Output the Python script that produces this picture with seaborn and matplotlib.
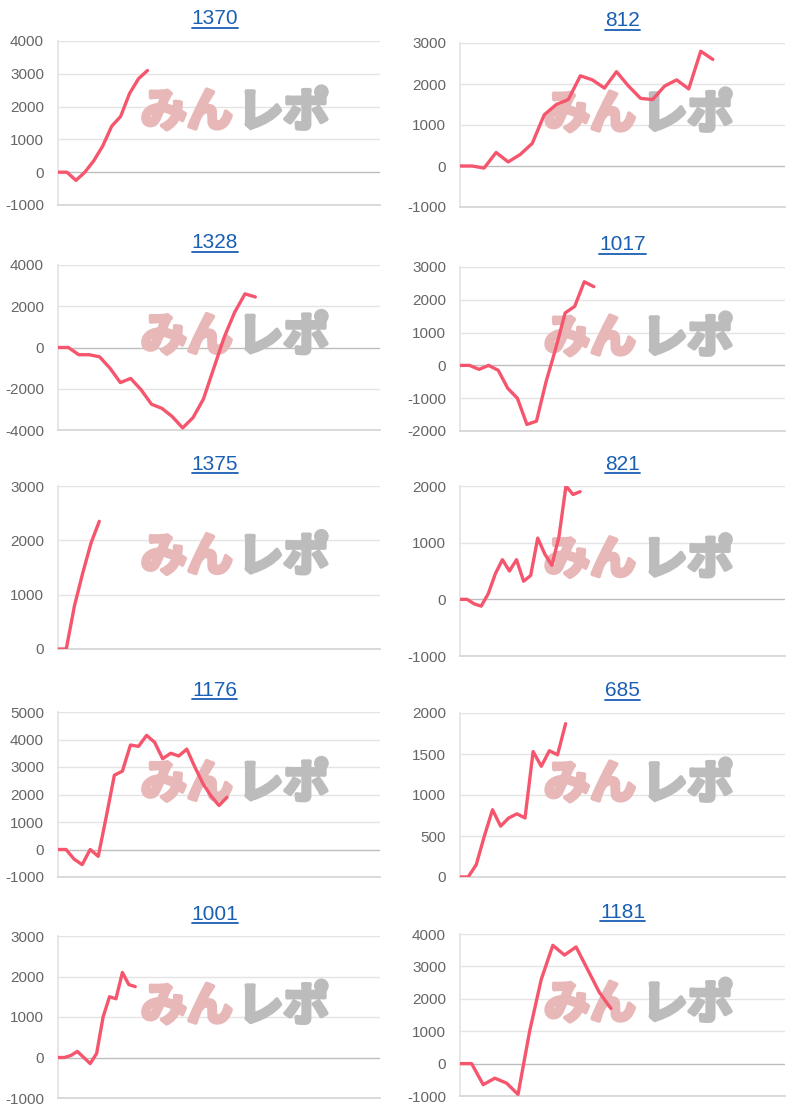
import matplotlib
matplotlib.use("Agg")
import matplotlib.pyplot as plt
import matplotlib.patheffects as pe
import seaborn as sns
import numpy as np
import pandas as pd

sns.set_theme(style="white")
plt.rcParams['font.family'] = ['Liberation Sans', 'DejaVu Sans', 'Noto Sans CJK JP']

# タイトル (台番号)
titles = ["1370", "812", "1328", "1017", "1375", "821", "1176", "685", "1001", "1181"]

# 差枚数の推移
s1370 = [0, 0, -250, 0, 350, 800, 1400, 1700, 2400, 2850, 3100]
s812 = [0, 0, -50, 330, 100, 280, 550, 1250, 1500, 1620, 2200, 2100, 1900, 2300, 1950,
        1650, 1620, 1950, 2100, 1880, 2800, 2600]
s1328 = [0, 0, -350, -350, -450, -1000, -1700, -1500, -2050, -2750, -2950, -3350, -3900,
         -3400, -2500, -1000, 500, 1700, 2600, 2450]
s1017 = [0, 0, -120, 0, -150, -700, -1000, -1800, -1700, -500, 500, 1600, 1800, 2550, 2400]
s1375 = [0, 0, 800, 1400, 1950, 2350]
s821 = [0, 0, -80, -120, 100, 450, 700, 500, 700, 320, 420, 1080, 800, 600, 1100, 2000, 1850, 1900]
s1176 = [0, 0, -350, -550, 0, -250, 1200, 2700, 2850, 3800, 3750, 4150, 3900, 3300, 3500,
         3400, 3650, 3000, 2400, 1950, 1600, 1900]
s685 = [0, 0, 150, 500, 820, 620, 720, 770, 720, 1530, 1350, 1540, 1490, 1870]
s1001 = [0, 0, 50, 150, 0, -150, 100, 1000, 1500, 1450, 2100, 1800, 1750]
s1181 = [0, 0, -650, -450, -600, -950, 1000, 2600, 3650, 3350, 3600, 2900, 2200, 1700]
series = [s1370, s812, s1328, s1017, s1375, s821, s1176, s685, s1001, s1181]

# x軸の幅 (点の数換算)
x_slots = [36, 27, 31, 34, 39, 46, 40, 40, 50, 28]

# y軸の範囲と目盛り間隔
y_ranges = [(-1000, 4000, 1000), (-1000, 3000, 1000), (-4000, 4000, 2000), (-2000, 3000, 1000),
            (0, 3000, 1000), (-1000, 2000, 1000), (-1000, 5000, 1000), (0, 2000, 500),
            (-1000, 3000, 1000), (-1000, 4000, 1000)]

W, H = 808, 1115
fig = plt.figure(figsize=(W / 100, H / 100), dpi=100)

# 各パネルの位置 (px)
lefts = [58, 460]
rights = [380, 785]
tops = [41, 265, 486, 712, 936]
bottoms = [205, 430, 649, 877, 1098]
right_tops = [43, 267, 486, 713, 934]
right_bottoms = [207, 431, 656, 877, 1096]

line_color = "#f5566d"
titles_drawn = []
for i, (title, vals) in enumerate(zip(titles, series)):
    r, c = divmod(i, 2)
    l, rr = lefts[c], rights[c]
    t = tops[r] if c == 0 else right_tops[r]
    b = bottoms[r] if c == 0 else right_bottoms[r]
    ax = fig.add_axes([l / W, 1 - b / H, (rr - l) / W, (b - t) / H])
    ymin, ymax, step = y_ranges[i]
    df = pd.DataFrame({"x": np.arange(len(vals)), "y": vals})
    ticks = np.arange(ymin, ymax + 1, step)
    for tk in ticks:
        ax.axhline(tk, color="#bdbdbd" if tk == 0 else "#e4e4e4", lw=1, zorder=0)
    sns.lineplot(data=df, x="x", y="y", ax=ax, color=line_color, lw=2.4, zorder=3)
    ax.set_xlim(0, x_slots[i])
    ax.set_ylim(ymin, ymax)
    ax.set_yticks(ticks)
    ax.set_yticklabels([str(v) for v in ticks], color="#666666", fontsize=11)
    ax.set_xticks([])
    ax.set_xlabel("")
    ax.set_ylabel("")
    ax.tick_params(axis="y", length=0, pad=10)
    for s in ["top", "right"]:
        ax.spines[s].set_visible(False)
    ax.spines["left"].set_color("#e4e4e4")
    ax.spines["bottom"].set_color("#d6d6d6")
    ax.patch.set_alpha(0)
    # ウォーターマーク
    ax.text(0.40, 0.56, "みん", transform=ax.transAxes, ha="center", va="center",
            fontsize=33, fontweight="bold", color="#e8b8b8", family="Noto Sans CJK JP", zorder=1,
            path_effects=[pe.withStroke(linewidth=3, foreground="#e8b8b8")])
    ax.text(0.70, 0.56, "レポ", transform=ax.transAxes, ha="center", va="center",
            fontsize=33, fontweight="bold", color="#bcbcbc", family="Noto Sans CJK JP", zorder=1,
            path_effects=[pe.withStroke(linewidth=3, foreground="#bcbcbc")])
    txt = fig.text((l + rr) / 2 / W + (-0.005 if c == 0 else 0.0), 1 - (t - 22) / H, title,
                   ha="center", va="center", fontsize=15, color="#1a5fb4")
    titles_drawn.append(txt)

# タイトルの下線
fig.canvas.draw()
renderer = fig.canvas.get_renderer()
for txt in titles_drawn:
    bb = txt.get_window_extent(renderer)
    y = (bb.y0 + 1) / H
    fig.add_artist(plt.Line2D([bb.x0 / W, bb.x1 / W], [y, y], color="#1a5fb4", lw=1.3))

fig.savefig("out.png", dpi=100)
